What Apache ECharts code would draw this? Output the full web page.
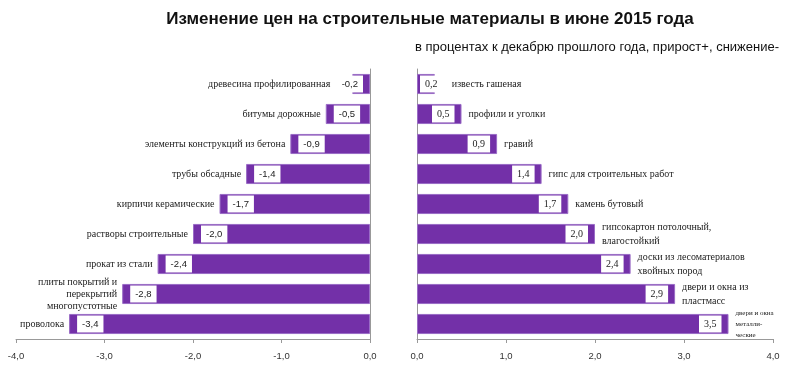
<!DOCTYPE html>
<html><head><meta charset="utf-8">
<script src="https://cdn.jsdelivr.net/npm/echarts@6/dist/echarts.min.js"></script>
<style>html,body{margin:0;padding:0;background:#fff}#c{width:800px;height:368px}</style>
</head><body><div id="c"></div>
<script>
var title = 'Изменение цен на строительные материалы в июне 2015 года';
var subtitle = 'в процентах к декабрю прошлого года, прирост+, снижение-';
var leftCats = ['древесина профилированная','битумы дорожные','элементы конструкций из бетона','трубы обсадные','кирпичи керамические','растворы строительные','прокат из стали','плиты покрытий и\nперекрытий\nмногопустотные','проволока'];
var leftVals = [-0.2,-0.5,-0.9,-1.4,-1.7,-2.0,-2.4,-2.8,-3.4];
var rightCats = ['известь гашеная','профили и уголки','гравий','гипс для строительных работ','камень бутовый','гипсокартон потолочный,\nвлагостойкий','доски из лесоматериалов\nхвойных пород','двери и окна из\nпластмасс','двери и окна\nметалли-\nческие'];
var rightVals = [0.2,0.5,0.9,1.4,1.7,2.0,2.4,2.9,3.5];
var leftTicks = [-4,-3,-2,-1,0];
var rightTicks = [0,1,2,3,4];

function fmt(v){ return v.toFixed(1).replace('.', ','); }
var purple = '#7330A8';
var serif = '"Liberation Serif","DejaVu Serif",serif';
var sans = '"Liberation Sans",Arial,sans-serif';
var leftValLabel = {show:true, backgroundColor:'#fff', padding:[4,5,3,5], color:'#222', fontSize:9.5, fontFamily:sans, formatter:function(p){return fmt(p.value);}};
var rightValLabel = {show:true, backgroundColor:'#fff', padding:[4,5,3,5], color:'#222', fontSize:10, fontFamily:serif, formatter:function(p){return fmt(p.value);}};

var leftMain = leftVals.map(function(v){
  var small = Math.abs(v) < 0.3;
  return {value:v, label: small ? {position:'insideRight', offset:[-2,0]} : {position:'insideLeft', offset:[3,0]}};
});
var leftName = leftVals.map(function(v,i){
  var small = Math.abs(v) < 0.3;
  return {value:v, label:{distance: small ? 22 : 5}};
});
var rightMain = rightVals.map(function(v){
  var small = Math.abs(v) < 0.3;
  return {value:v, label: small ? {position:'insideLeft', offset:[-2,0]} : {position:'insideRight', offset:[-2,0]}};
});
var rightName = rightVals.map(function(v,i){
  var small = Math.abs(v) < 0.3;
  var last = i === rightVals.length-1;
  return {value:v, label:{distance: small ? 17 : 7, fontSize: last ? 7 : 10, lineHeight: last ? 11 : 14}};
});

var axisX = function(gi, min, max, ticks){
  return {type:'value', gridIndex:gi, min:min, max:max, interval:1,
    axisLine:{show:true, lineStyle:{color:'#999'}}, axisTick:{show:true, length:4, lineStyle:{color:'#999'}},
    splitLine:{show:false},
    axisLabel:{color:'#333', fontSize:9.5, margin:12, fontFamily:sans, formatter:function(v){return fmt(v);}}};
};
var axisY = function(gi, cats){
  return {type:'category', gridIndex:gi, data:cats, inverse:true,
    axisLine:{show:true, onZero:true, lineStyle:{color:'#999'}}, axisTick:{show:false}, axisLabel:{show:false}};
};

var chart = echarts.init(document.getElementById('c'), null, {renderer:'canvas'});
chart.setOption({
  animation:false,
  title:[
    {text:title, left:425, textAlign:'center', top:6, textStyle:{fontSize:17, fontWeight:'bold', color:'#111', fontFamily:sans}},
    {text:subtitle, right:16, top:36, textStyle:{fontSize:13, fontWeight:'normal', color:'#111', fontFamily:sans}}
  ],
  grid:[
    {left:16, right:430, top:69, bottom:29},
    {left:417, right:27, top:69, bottom:29}
  ],
  xAxis:[axisX(0,-4,0,leftTicks), axisX(1,0,4,rightTicks)],
  yAxis:[axisY(0,leftCats), axisY(1,rightCats)],
  series:[
    {type:'bar', xAxisIndex:0, yAxisIndex:0, data:leftMain, barCategoryGap:'33%', barGap:'-100%',
      itemStyle:{color:purple, borderColor:'#9a6cc6', borderWidth:1}, label:leftValLabel},
    {type:'bar', xAxisIndex:0, yAxisIndex:0, data:leftName, barGap:'-100%', barCategoryGap:'33%', silent:true,
      itemStyle:{color:'rgba(0,0,0,0)'},
      label:{show:true, position:'left', color:'#222', fontSize:10, lineHeight:12, align:'right', fontFamily:serif,
        formatter:function(p){return leftCats[p.dataIndex];}}},
    {type:'bar', xAxisIndex:1, yAxisIndex:1, data:rightMain, barCategoryGap:'33%', barGap:'-100%',
      itemStyle:{color:purple, borderColor:'#9a6cc6', borderWidth:1}, label:rightValLabel},
    {type:'bar', xAxisIndex:1, yAxisIndex:1, data:rightName, barGap:'-100%', barCategoryGap:'33%', silent:true,
      itemStyle:{color:'rgba(0,0,0,0)'},
      label:{show:true, position:'right', color:'#222', fontSize:10, lineHeight:14, align:'left', fontFamily:serif,
        formatter:function(p){return rightCats[p.dataIndex];}}}
  ]
});
</script></body></html>
